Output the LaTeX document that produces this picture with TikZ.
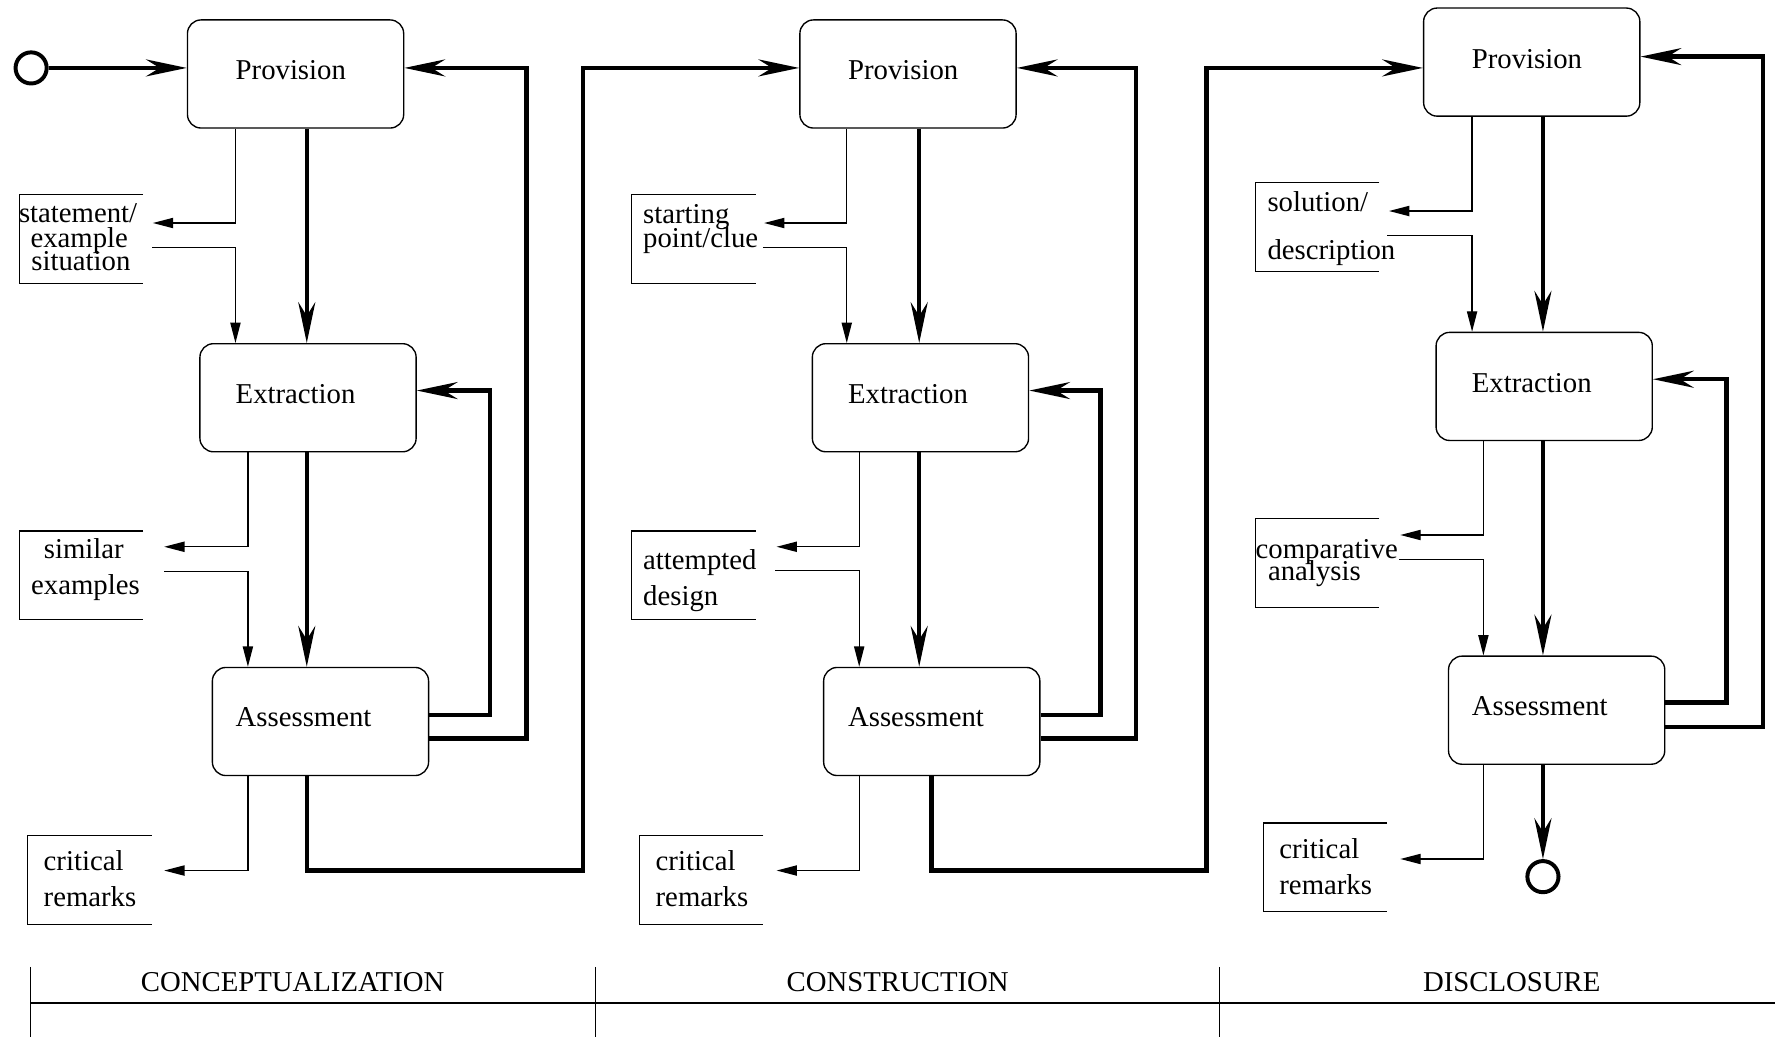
\documentclass[tikz,border=0pt]{standalone}
\usepackage{fontspec}
\setmainfont{Liberation Serif}
\usetikzlibrary{arrows.meta}
\newcommand\diagfont{\fontsize{25.4pt}{30pt}\selectfont}
\tikzset{
 box/.style={draw, rounded corners=12pt, minimum width=191pt, minimum height=95.5pt, anchor=north west, inner sep=0pt, line width=1.2pt},
 lblframe/.style={minimum width=109pt, minimum height=78pt, anchor=north west, inner sep=0pt},
 framel/.style={line width=1.1pt},
 txt/.style={inner sep=0pt, anchor=base west, font=\diagfont},
 txtc/.style={inner sep=0pt, anchor=base, font=\diagfont},
 thk/.style={line width=4pt, -{Stealth[length=36pt,width=15pt,inset=12pt]}},
 thkline/.style={line width=4pt},
 thn/.style={line width=1.2pt, -{Triangle[length=18pt,width=9pt]}},
 term/.style={circle, draw, line width=3.5pt, minimum size=27.5pt, inner sep=0pt},
 tbl/.style={line width=1.2pt}
}
\begin{document}
\begin{tikzpicture}[x=1pt,y=-1pt]
\useasboundingbox (0,0) rectangle (1568,916);

% ---------- boxes ----------
\node[box] (P1) at (165,17) {};
\node[box] (E1) at (176,303) {};
\node[box] (A1) at (187,589) {};
\node[box] (P2) at (706,17) {};
\node[box] (E2) at (717,303) {};
\node[box] (A2) at (727,589) {};
\node[box] (P3) at (1257,6.5) {};
\node[box] (E3) at (1268,293) {};
\node[box] (A3) at (1279,579) {};

\node[txt] (tP1) at (208,70.5) {Provision};
\node[txt] (tE1) at (208,356.5) {Extraction};
\node[txt] (tA1) at (208,642) {Assessment};
\node[txt] (tP2) at (749,70.5) {Provision};
\node[txt] (tE2) at (749,356.5) {Extraction};
\node[txt] (tA2) at (749,642) {Assessment};
\node[txt] (tP3) at (1300,60.5) {Provision};
\node[txt] (tE3) at (1300,346.5) {Extraction};
\node[txt] (tA3) at (1300,632) {Assessment};

% ---------- terminals ----------
\node[term] (start) at (27.5,60) {};
\node[term] (end) at (1363,774.4) {};

% ---------- label frames ----------
\foreach \n/\x/\y in {L1a/17/172, L1b/17/469, L1c/24.5/738,
                      L2a/558/172, L2b/558/469, L2c/565/738,
                      L3a/1109/161.4, L3b/1109/458, L3c/1116/727}{
  \node[lblframe] (\n) at (\x,\y) {};
  \draw[framel] (\n.north east) -| (\n.south west) -- (\n.south east);
}

\node[txtc] (s1) at (69,196.7) {statement/};
\node[txtc] (s2) at (70,218.5) {example};
\node[txtc] (s3) at (71.5,239) {situation};
\node[txtc] (si1) at (74,493) {similar};
\node[txtc] (si2) at (75.5,525) {examples};
\node[txt] (c11) at (38.4,768.6) {critical};
\node[txt] (c12) at (38.4,800.4) {remarks};

\node[txt] (st1) at (568,197) {starting};
\node[txt] (st2) at (568,219) {point/clue};
\node[txt] (at1) at (568,503.5) {attempted};
\node[txt] (at2) at (568,535) {design};
\node[txt] (c21) at (579,768.6) {critical};
\node[txt] (c22) at (579,800.4) {remarks};

\node[txt] (so1) at (1119.5,187) {solution/};
\node[txt] (so2) at (1119.5,229) {description};
\node[txt] (co1) at (1109,493) {comparative};
\node[txt] (co2) at (1120,512.4) {analysis};
\node[txt] (c31) at (1130,758.2) {critical};
\node[txt] (c32) at (1130,790) {remarks};

% ---------- free ends of thin connectors ----------
\coordinate (k1a) at (135,197);   \coordinate (k1b) at (134.5,218.5);
\coordinate (k1c) at (145,483);   \coordinate (k1d) at (145,505);
\coordinate (k1e) at (145,769);
\coordinate (k2a) at (675,197);   \coordinate (k2b) at (674,218.8);
\coordinate (k2c) at (686,483);   \coordinate (k2d) at (685,504);
\coordinate (k2e) at (686,769);
\coordinate (k3a) at (1227,186.4); \coordinate (k3b) at (1225.6,208.2);
\coordinate (k3c) at (1237,472.6); \coordinate (k3d) at (1236,494);
\coordinate (k3e) at (1237,758.8);

% ---------- column 1 ----------
\draw[thk] (start.east) -- (start.east -| P1.west);
\draw[thk] (P1.south -| 271,0) -- (E1.north -| 271,0);
\draw[thk] (E1.south -| 271,0) -- (A1.north -| 271,0);
\draw[thk] (A1.east |- 0,631.5) -- ++(53.5,0) |- (E1.east |- 0,345);
\draw[thk] (A1.east |- 0,652.5) -- ++(86,0) |- (P1.east |- 0,60);
\draw[thk] (A1.south -| 271,0) -- (271,769) -| (515,60) -- (P2.west |- 0,60);
\draw[thn] (P1.south -| 208,0) |- (k1a);
\draw[thn] (k1b) -| (E1.north -| 208,0);
\draw[thn] (E1.south -| 219,0) |- (k1c);
\draw[thn] (k1d) -| (A1.north -| 219,0);
\draw[thn] (A1.south -| 219,0) |- (k1e);

% ---------- column 2 ----------
\draw[thk] (P2.south -| 812,0) -- (E2.north -| 812,0);
\draw[thk] (E2.south -| 812,0) -- (A2.north -| 812,0);
\draw[thk] (A2.east |- 0,631.5) -- ++(53,0) |- (E2.east |- 0,345);
\draw[thk] (A2.east |- 0,652.5) -- ++(84.5,0) |- (P2.east |- 0,60);
\draw[thk] (A2.south -| 823,0) -- (823,769) -| (1066,60) -- (P3.west |- 0,60);
\draw[thn] (P2.south -| 748,0) |- (k2a);
\draw[thn] (k2b) -| (E2.north -| 748,0);
\draw[thn] (E2.south -| 759,0) |- (k2c);
\draw[thn] (k2d) -| (A2.north -| 759,0);
\draw[thn] (A2.south -| 759,0) |- (k2e);

% ---------- column 3 ----------
\draw[thk] (P3.south -| 1363,0) -- (E3.north -| 1363,0);
\draw[thk] (E3.south -| 1363,0) -- (A3.north -| 1363,0);
\draw[thk] (A3.east |- 0,620.7) -- ++(54,0) |- (E3.east |- 0,335);
\draw[thk] (A3.east |- 0,642) -- ++(86,0) |- (P3.east |- 0,50);
\draw[thk] (A3.south -| 1363,0) -- (end.north);
\draw[thn] (P3.south -| 1300.4,0) |- (k3a);
\draw[thn] (k3b) -| (E3.north -| 1300.4,0);
\draw[thn] (E3.south -| 1310.4,0) |- (k3c);
\draw[thn] (k3d) -| (A3.north -| 1310.4,0);
\draw[thn] (A3.south -| 1310.4,0) |- (k3e);

% ---------- phase table ----------
\draw[tbl] (27,886) -- (1568,886);
\draw[tbl] (27,854) -- (27,916);
\draw[tbl] (526,854) -- (526,916);
\draw[tbl] (1077,854) -- (1077,916);
\node[txtc] (ph1) at (258.5,876) {CONCEPTUALIZATION};
\node[txtc] (ph2) at (793,876) {CONSTRUCTION};
\node[txtc] (ph3) at (1335.5,876) {DISCLOSURE};
\end{tikzpicture}
\end{document}
